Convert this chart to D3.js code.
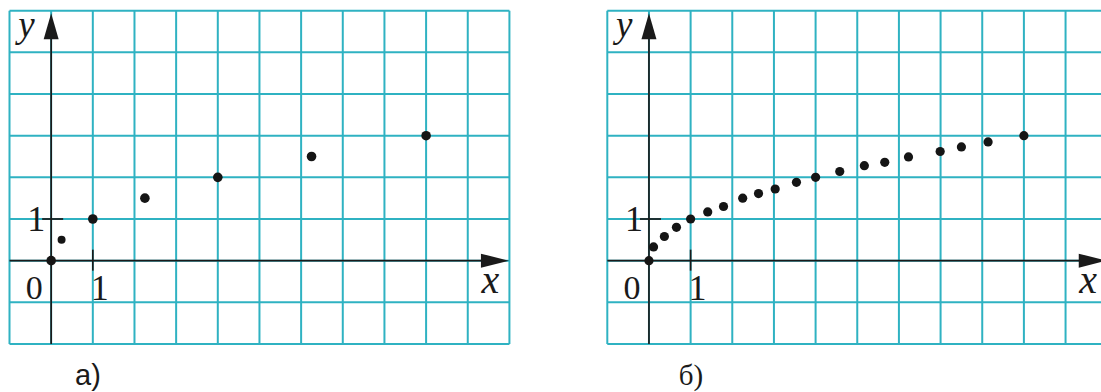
<!DOCTYPE html>
<html lang="ru">
<head>
    <meta charset="UTF-8">
    <title>y = sqrt(x)</title>
    <style>
        body { margin: 0; background: #fff; }
        svg { display: block; }
        .serif { font-family: "Liberation Serif", "DejaVu Serif", "Times New Roman", serif; }
    </style>
</head>
<body>
<svg height="392" width="1101"></svg>

<script src="https://d3js.org/d3.v7.min.js"></script>
<script>

    // grid extent in chart units
    var xTicks = d3.range(-1, 12);   // -1 .. 11
    var yTicks = d3.range(-2, 7);    // -2 .. 6

    // panel a) - few points
    var pointsA_x = [0, 0.25, 1, 2.25, 4, 6.25, 9];
    var pointsA_y = [0, 0.5, 1, 1.5, 2, 2.5, 3];

    // panel b) - dense points (read off the picture)
    var pointsB_x = [0, 0.11, 0.37, 0.66, 1, 1.41, 1.79, 2.25, 2.63, 3.03, 3.54, 4, 4.58, 5.17, 5.66, 6.23, 6.99, 7.5, 8.14, 9];
    var pointsB_y = [0, 0.33, 0.58, 0.8, 1, 1.17, 1.3, 1.5, 1.61, 1.72, 1.88, 2, 2.14, 2.28, 2.36, 2.49, 2.62, 2.73, 2.85, 3];

    var panels = [
        {label: "а)", left: 9.5, labelX: 88, labelClass: "sans",
         xs: pointsA_x, ys: pointsA_y, radius: [4.8, 4, 4.8, 4.8, 4.8, 4.8, 4.8]},
        {label: "б)", left: 607.3, labelX: 691, labelClass: "serif",
         xs: pointsB_x, ys: pointsB_y, radius: null}
    ];

    var cell = 41.66;
    var gridTop = 10.7;
    var gridBottom = gridTop + 8 * cell;

    var gridColor = "#2fb2c2";
    var axisColor = "#1a1a1a";

    var svg = d3.select("svg");

    panels.forEach(function(p) {
        var x = d3.scaleLinear().domain([-1, 11]).range([p.left, p.left + 12 * cell]);
        var y = d3.scaleLinear().domain([-2, 6]).range([gridBottom, gridTop]);

        var g = svg.append("g");

        // grid
        g.selectAll(".vline").data(xTicks).enter().append("line")
            .attr("x1", function(d) { return x(d); })
            .attr("x2", function(d) { return x(d); })
            .attr("y1", y(-2)).attr("y2", y(6))
            .attr("stroke", gridColor).attr("stroke-width", 2);

        g.selectAll(".hline").data(yTicks).enter().append("line")
            .attr("x1", x(-1)).attr("x2", x(11))
            .attr("y1", function(d) { return y(d); })
            .attr("y2", function(d) { return y(d); })
            .attr("stroke", gridColor).attr("stroke-width", 2);

        // axes
        g.append("line")
            .attr("x1", x(-1)).attr("x2", x(11) - 20)
            .attr("y1", y(0)).attr("y2", y(0))
            .attr("stroke", axisColor).attr("stroke-width", 1.7);
        g.append("line")
            .attr("x1", x(0)).attr("x2", x(0))
            .attr("y1", y(-2)).attr("y2", y(6) + 20)
            .attr("stroke", axisColor).attr("stroke-width", 1.7);

        // arrow heads
        var xTip = x(11) - 0.5, yTip = y(6) + 2.5;
        g.append("path")
            .attr("d", "M" + xTip + "," + y(0) + " L" + (xTip - 28) + "," + (y(0) - 7) +
                       " L" + (xTip - 28) + "," + (y(0) + 7) + " Z")
            .attr("fill", axisColor);
        g.append("path")
            .attr("d", "M" + x(0) + "," + yTip + " L" + (x(0) - 7.5) + "," + (yTip + 26) +
                       " L" + (x(0) + 7.5) + "," + (yTip + 26) + " Z")
            .attr("fill", axisColor);

        // unit ticks
        g.append("line")
            .attr("x1", x(0) - 9).attr("x2", x(0) + 12)
            .attr("y1", y(1)).attr("y2", y(1))
            .attr("stroke", axisColor).attr("stroke-width", 1.7);
        g.append("line")
            .attr("x1", x(1)).attr("x2", x(1))
            .attr("y1", y(0) - 11).attr("y2", y(0) + 10)
            .attr("stroke", axisColor).attr("stroke-width", 1.7);

        // labels
        g.append("text").attr("class", "serif")
            .attr("x", x(0) - 17).attr("y", y(0) + 38)
            .attr("text-anchor", "middle")
            .style("font-size", "34px")
            .attr("fill", axisColor)
            .text("0");
        g.append("text").attr("class", "serif")
            .attr("x", x(1) - 2).attr("y", y(0) + 39)
            .style("font-size", "36px")
            .attr("fill", axisColor)
            .text("1");
        g.append("text").attr("class", "serif")
            .attr("x", x(0) - 6).attr("y", y(1) + 12)
            .attr("text-anchor", "end")
            .style("font-size", "36px")
            .attr("fill", axisColor)
            .text("1");
        g.append("text").attr("class", "serif")
            .attr("x", x(0) - 33).attr("y", y(6) + 26)
            .style("font-size", "37px").style("font-style", "italic")
            .attr("fill", axisColor)
            .text("y");
        g.append("text").attr("class", "serif")
            .attr("x", x(11) - 28).attr("y", y(0) + 32)
            .style("font-size", "40px").style("font-style", "italic")
            .attr("fill", axisColor)
            .text("x");

        // points
        g.selectAll(".dot").data(p.xs).enter().append("circle")
            .attr("cx", function(d) { return x(d); })
            .attr("cy", function(d, i) { return y(p.ys[i]); })
            .attr("r", function(d, i) { return p.radius ? p.radius[i] : 4.6; })
            .attr("fill", "#151515");

        // panel caption
        g.append("text").attr("class", p.labelClass)
            .attr("x", p.labelX).attr("y", 385)
            .attr("text-anchor", "middle")
            .style("font-family", p.labelClass == "sans" ? "'Liberation Sans', Arial, sans-serif" : null)
            .style("font-size", "29px")
            .attr("fill", axisColor)
            .text(p.label);
    });

</script>
</body>
</html>
